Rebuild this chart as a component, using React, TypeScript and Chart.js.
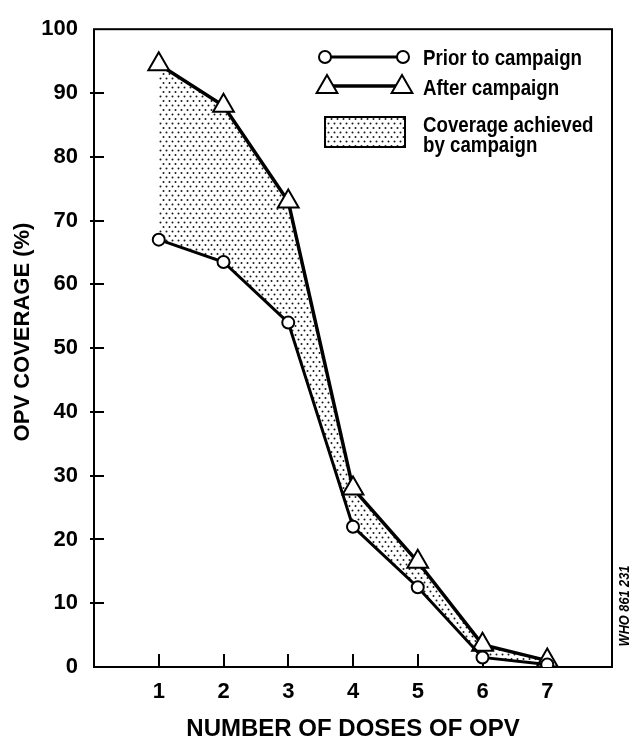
import React, { useEffect, useRef } from "react";
import { Chart, registerables } from "chart.js";

Chart.register(...registerables);

// ---- data ----
const doses = [1, 2, 3, 4, 5, 6, 7];
const priorCoverage = [67, 63.5, 54, 22, 12.5, 1.5, 0.4];
const afterCoverage = [94.5, 88, 73, 28, 16.5, 3.5, 1];
const yTickValues = [0, 10, 20, 30, 40, 50, 60, 70, 80, 90, 100];
const xTickValues = [1, 2, 3, 4, 5, 6, 7];
const seriesLabels = ["Prior to campaign", "After campaign"];
const fillLabelLines = ["Coverage achieved", "by campaign"];
const xTitle = "NUMBER OF DOSES OF OPV";
const yTitle = "OPV COVERAGE (%)";
const stampText = "WHO 861 231";

const SANS = '"Liberation Sans", Arial, Helvetica, sans-serif';

function makeDots(ctx: CanvasRenderingContext2D): CanvasPattern | string {
  const c = document.createElement("canvas");
  c.width = 6;
  c.height = 9;
  const g = c.getContext("2d");
  if (!g) return "#ddd";
  g.fillStyle = "#fff";
  g.fillRect(0, 0, 6, 9);
  g.fillStyle = "#1a1a1a";
  g.beginPath();
  g.arc(1.5, 2, 1, 0, Math.PI * 2);
  g.arc(4.5, 6.5, 1, 0, Math.PI * 2);
  g.fill();
  return ctx.createPattern(c, "repeat") || "#ddd";
}

function triPath(ctx: CanvasRenderingContext2D, x: number, y: number, r: number) {
  ctx.beginPath();
  ctx.moveTo(x, y - r);
  ctx.lineTo(x + r * Math.sin(Math.PI / 3), y + r / 2);
  ctx.lineTo(x - r * Math.sin(Math.PI / 3), y + r / 2);
  ctx.closePath();
}

// draw text compressed horizontally (condensed look)
function narrowText(ctx: CanvasRenderingContext2D, text: string, x: number, y: number, sx: number) {
  ctx.save();
  ctx.translate(x, y);
  ctx.scale(sx, 1);
  ctx.fillText(text, 0, 0);
  ctx.restore();
}

export default function App() {
  const ref = useRef<HTMLCanvasElement | null>(null);

  useEffect(() => {
    const canvas = ref.current;
    if (!canvas) return;
    const ctx0 = canvas.getContext("2d")!;
    const dots = makeDots(ctx0);

    const frame = {
      id: "frame",
      beforeDatasetsDraw(chart: any) {
        const { ctx, chartArea: a, scales } = chart;
        ctx.save();
        ctx.strokeStyle = "#000";
        ctx.lineWidth = 2;
        ctx.strokeRect(a.left, a.top, a.right - a.left, a.bottom - a.top);
        ctx.beginPath();
        yTickValues.forEach((v) => {
          if (v === 0 || v === 100) return;
          const y = Math.round(scales.y.getPixelForValue(v));
          ctx.moveTo(a.left - 4, y);
          ctx.lineTo(a.left + 10, y);
        });
        xTickValues.forEach((v) => {
          const x = Math.round(scales.x.getPixelForValue(v));
          ctx.moveTo(x, a.bottom);
          ctx.lineTo(x, a.bottom - 13);
        });
        ctx.stroke();
        ctx.restore();
      },
      afterDraw(chart: any) {
        const { ctx, chartArea: a } = chart;
        ctx.save();
        ctx.strokeStyle = "#000";
        // y axis title
        ctx.save();
        ctx.fillStyle = "#000";
        ctx.translate(23, 332);
        ctx.rotate(-Math.PI / 2);
        ctx.font = `bold 22px ${SANS}`;
        ctx.textAlign = "center";
        ctx.textBaseline = "middle";
        ctx.fillText(yTitle, 0, 0);
        ctx.restore();
        // prior legend sample
        ctx.lineWidth = 3;
        ctx.beginPath();
        ctx.moveTo(325, 57);
        ctx.lineTo(403, 57);
        ctx.stroke();
        ctx.lineWidth = 2;
        [325, 403].forEach((x) => {
          ctx.beginPath();
          ctx.arc(x, 57, 6, 0, Math.PI * 2);
          ctx.fillStyle = "#fff";
          ctx.fill();
          ctx.stroke();
        });
        // after legend sample
        ctx.lineWidth = 3.5;
        ctx.beginPath();
        ctx.moveTo(327, 86);
        ctx.lineTo(402, 86);
        ctx.stroke();
        ctx.lineWidth = 2;
        [327, 402].forEach((x) => {
          triPath(ctx, x, 87, 12);
          ctx.fillStyle = "#fff";
          ctx.fill();
          ctx.stroke();
        });
        // fill sample
        ctx.fillStyle = dots;
        ctx.fillRect(325, 117, 80, 30);
        ctx.lineWidth = 2;
        ctx.strokeRect(325, 117, 80, 30);
        // legend texts
        ctx.fillStyle = "#000";
        ctx.font = `bold 22px ${SANS}`;
        ctx.textAlign = "left";
        ctx.textBaseline = "alphabetic";
        narrowText(ctx, seriesLabels[0], 423, 65, 0.85);
        narrowText(ctx, seriesLabels[1], 423, 95, 0.85);
        narrowText(ctx, fillLabelLines[0], 423, 132, 0.85);
        narrowText(ctx, fillLabelLines[1], 423, 152, 0.85);
        // stamp
        ctx.translate(a.right + 13, 606);
        ctx.rotate(-Math.PI / 2);
        ctx.font = `italic bold 15px ${SANS}`;
        ctx.textAlign = "center";
        ctx.textBaseline = "middle";
        narrowText(ctx, stampText, 0, 0, 0.85);
        ctx.restore();
      },
    };

    const chart = new Chart(canvas, {
      type: "line",
      data: {
        datasets: [
          {
            label: seriesLabels[0],
            data: doses.map((d, i) => ({ x: d, y: priorCoverage[i] })),
            borderColor: "#000",
            borderWidth: 3,
            pointStyle: "circle",
            pointRadius: 6,
            pointBackgroundColor: "#fff",
            pointBorderColor: "#000",
            pointBorderWidth: 2,
            fill: false,
            tension: 0,
          },
          {
            label: seriesLabels[1],
            data: doses.map((d, i) => ({ x: d, y: afterCoverage[i] })),
            borderColor: "#000",
            borderWidth: 3.5,
            pointStyle: "triangle",
            pointRadius: 12,
            pointBackgroundColor: "#fff",
            pointBorderColor: "#000",
            pointBorderWidth: 2,
            backgroundColor: dots as any,
            fill: "-1",
            tension: 0,
          },
        ],
      },
      options: {
        animation: false,
        responsive: true,
        maintainAspectRatio: false,
        layout: { padding: { left: 0, top: 20, right: 23, bottom: 0 } },
        plugins: {
          legend: { display: false },
          tooltip: { enabled: false },
        },
        scales: {
          x: {
            type: "linear",
            min: 0,
            max: 8,
            afterFit: (s: any) => {
              s.height = 77;
            },
            afterBuildTicks: (s: any) => {
              s.ticks = xTickValues.map((v) => ({ value: v }));
            },
            grid: { display: false, drawTicks: false },
            border: { display: false },
            ticks: {
              color: "#000",
              font: { family: SANS, size: 22, weight: "bold" },
              padding: 12,
              maxRotation: 0,
            },
            title: {
              display: true,
              text: xTitle,
              color: "#000",
              font: { family: SANS, size: 24, weight: "bold" },
              padding: { top: 0, bottom: 0 },
            },
          },
          y: {
            type: "linear",
            min: 0,
            max: 100,
            afterFit: (s: any) => {
              s.width = 94;
            },
            afterBuildTicks: (s: any) => {
              s.ticks = yTickValues.map((v) => ({ value: v }));
            },
            grid: { display: false, drawTicks: false },
            border: { display: false },
            ticks: {
              color: "#000",
              font: { family: SANS, size: 22, weight: "bold" },
              padding: 16,
            },
            title: { display: false, text: yTitle },
          },
        },
      },
      plugins: [frame],
    } as any);

    return () => chart.destroy();
  }, []);

  return (
    <div style={{ position: "fixed", left: 0, top: 0, width: 635, height: 744, background: "#fff" }}>
      <canvas ref={ref} />
    </div>
  );
}
